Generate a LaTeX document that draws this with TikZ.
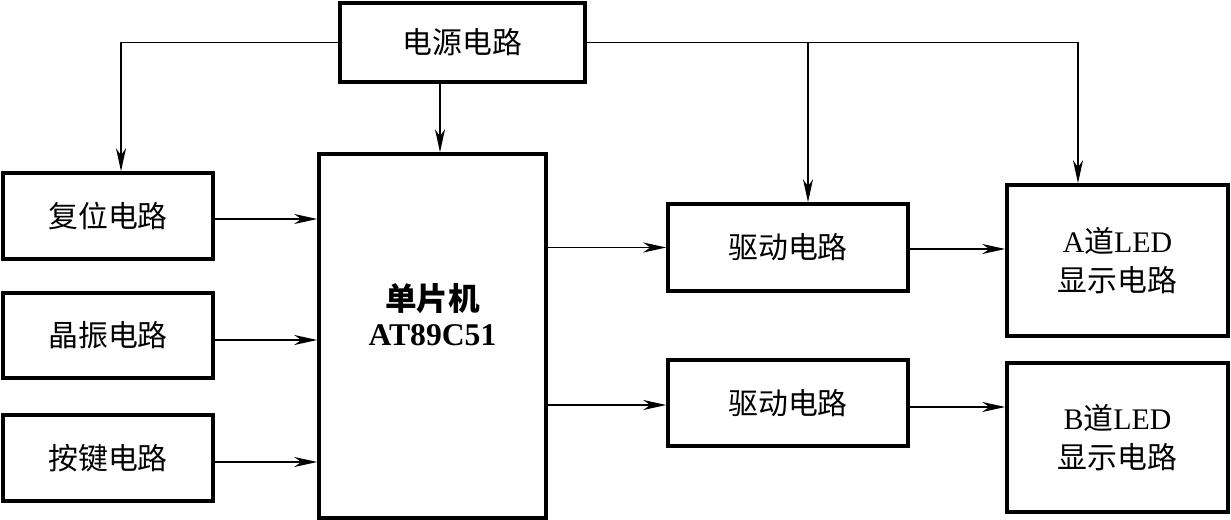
\documentclass[tikz,border=0pt]{standalone}
\usepackage{fontspec}
\setmainfont{Liberation Serif}
\newfontfamily\cjk{Noto Sans CJK SC}
\newcommand{\zhtext}[1]{{\cjk #1}}
\usetikzlibrary{arrows.meta, positioning, calc}

\begin{document}
\begin{tikzpicture}[>={Stealth[length=4.6mm, width=2mm, inset=1.4mm]},
    blockbox/.style={draw, line width=2pt, inner sep=0pt, align=center,
        font=\fontsize{17}{22}\selectfont},
    wire/.style={line width=1.1pt}]
    \useasboundingbox (0,0) rectangle (24.62,-10.4);

    % Nguon
    \node[blockbox, minimum width=4.9cm, minimum height=1.58cm] (power) at (9.25,-0.85) {\zhtext{电源电路}};

    % Cac khoi ben trai
    \node[blockbox, minimum width=4.2cm, minimum height=1.72cm] (reset) at (2.16,-4.32) {\zhtext{复位电路}};
    \node[blockbox, minimum width=4.2cm, minimum height=1.70cm] (osc) at (2.16,-6.71) {\zhtext{晶振电路}};
    \node[blockbox, minimum width=4.2cm, minimum height=1.72cm] (keys) at (2.16,-9.16) {\zhtext{按键电路}};

    % Vi dieu khien
    \node[blockbox, minimum width=4.54cm, minimum height=7.28cm] (mcu) at (8.65,-6.72) {};
    \node[align=center, font=\fontsize{18}{20}\selectfont\bfseries] (mcutxt) at (8.65,-6.3) {\zhtext{单片机}\\AT89C51};

    % Khoi driver va hien thi
    \node[blockbox, minimum width=4.8cm, minimum height=1.74cm] (drvA) at (15.76,-4.95) {\zhtext{驱动电路}};
    \node[blockbox, minimum width=4.8cm, minimum height=1.72cm] (drvB) at (15.76,-8.06) {\zhtext{驱动电路}};
    \node[blockbox, minimum width=4.42cm, minimum height=3.02cm] (ledA) at (22.35,-5.21) {A\zhtext{道}LED\\\zhtext{显示电路}};
    \node[blockbox, minimum width=4.42cm, minimum height=2.98cm] (ledB) at (22.35,-8.75) {B\zhtext{道}LED\\\zhtext{显示电路}};

    % Duong cap nguon
    \draw[wire, ->] (power.west) -| ([xshift=0.26cm]reset.north);
    \draw[wire, ->] ([xshift=0.15cm]mcu.north |- power.south) -- ([xshift=0.15cm]mcu.north);
    \draw[wire, ->] (power.east) -| ([xshift=-0.79cm]ledA.north);
    \draw[wire, ->] ([xshift=0.4cm]drvA.north |- power.east) -- ([xshift=0.4cm]drvA.north);

    % Tin hieu vao MCU
    \draw[wire, ->] ([yshift=-0.06cm]reset.east) -- ([yshift=-0.06cm]reset.east -| mcu.west);
    \draw[wire, ->] ([yshift=-0.09cm]osc.east) -- ([yshift=-0.09cm]osc.east -| mcu.west);
    \draw[wire, ->] ([yshift=-0.08cm]keys.east) -- ([yshift=-0.08cm]keys.east -| mcu.west);

    % Tin hieu ra
    \draw[wire, ->] (drvA.west -| mcu.east) -- (drvA.west);
    \draw[wire, ->] ([yshift=-0.04cm]drvB.west -| mcu.east) -- ([yshift=-0.04cm]drvB.west);
    \draw[wire, ->] ([yshift=-0.03cm]drvA.east) -- ([yshift=-0.03cm]drvA.east -| ledA.west);
    \draw[wire, ->] ([yshift=-0.08cm]drvB.east) -- ([yshift=-0.08cm]drvB.east -| ledB.west);
\end{tikzpicture}
\end{document}
